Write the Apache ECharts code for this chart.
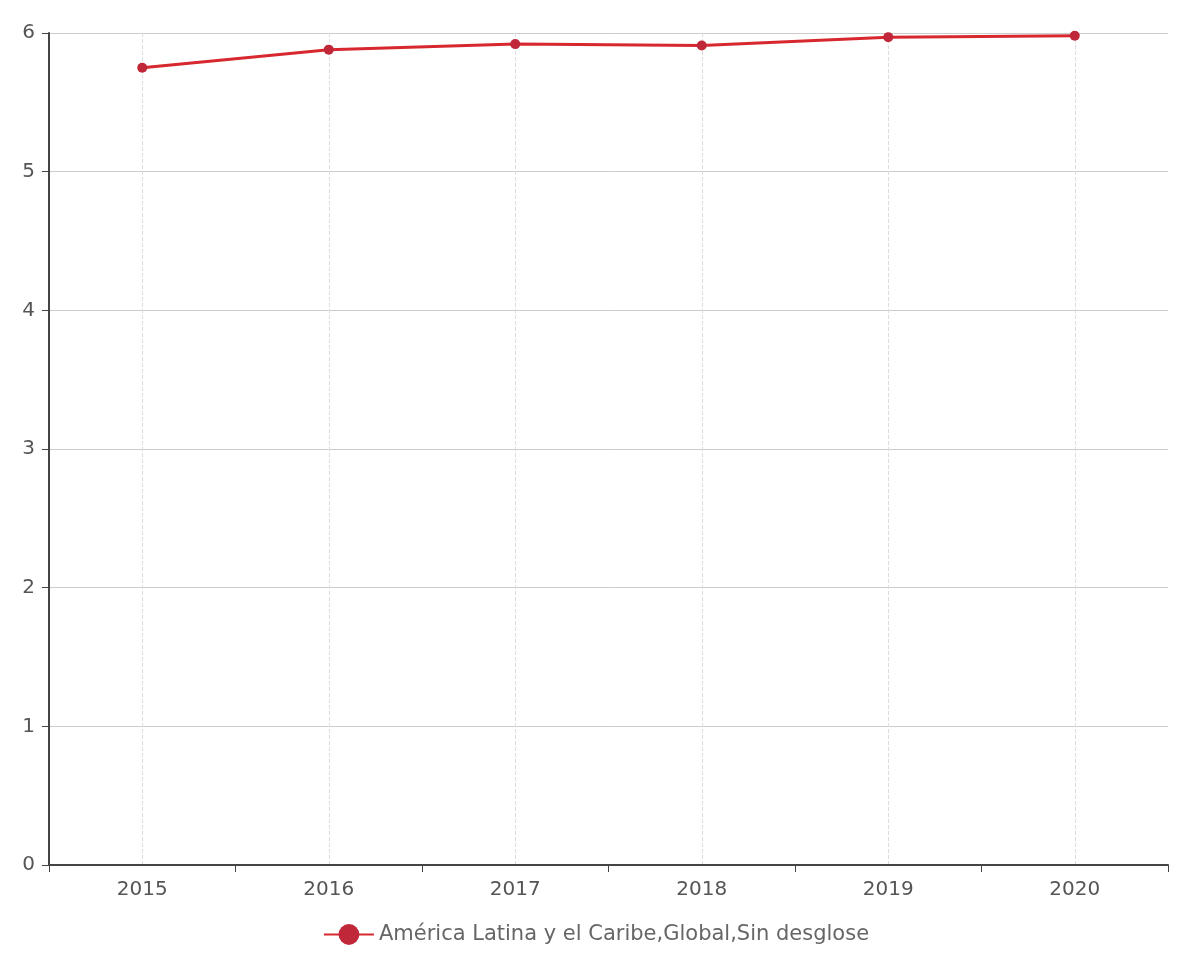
<!DOCTYPE html>
<html><head><meta charset="utf-8">
<script src="https://cdn.jsdelivr.net/npm/echarts@6/dist/echarts.min.js"></script>
<style>html,body{margin:0;padding:0;background:#fff}#c{width:1192px;height:956px}</style>
</head><body><div id="c"></div>
<script>
const categories = ['2015','2016','2017','2018','2019','2020'];
const values = [5.75, 5.88, 5.92, 5.91, 5.97, 5.98];
const seriesName = 'América Latina y el Caribe,Global,Sin desglose';
const yTicks = [0, 6, 1];

const FONT = 'DejaVu Sans, sans-serif';
const chart = echarts.init(document.getElementById('c'), null, {renderer: 'canvas'});
chart.setOption({
  animation: false,
  backgroundColor: '#fff',
  grid: {left: 49, right: 24, top: 33, bottom: 91, containLabel: false},
  legend: {
    bottom: 6, left: 'center',
    itemWidth: 50, itemHeight: 26, itemGap: 10,
    textStyle: {fontSize: 21, color: '#666', fontFamily: FONT},
    data: [seriesName]
  },
  xAxis: {
    type: 'category', data: categories, boundaryGap: true,
    axisLine: {lineStyle: {color: '#444', width: 2}},
    axisTick: {show: true, length: 7, lineStyle: {color: '#444'}},
    axisLabel: {fontSize: 20, color: '#555', margin: 15, fontFamily: FONT},
    splitLine: {show: true, alignWithLabel: true, lineStyle: {color: '#ddd', type: 'dashed'}}
  },
  yAxis: {
    type: 'value', min: yTicks[0], max: yTicks[1], interval: yTicks[2],
    axisLine: {show: true, lineStyle: {color: '#444', width: 2}},
    axisTick: {show: true, length: 7, lineStyle: {color: '#444'}},
    axisLabel: {fontSize: 20, color: '#555', margin: 14, fontFamily: FONT},
    splitLine: {show: true, lineStyle: {color: '#ccc'}}
  },
  series: [{
    name: seriesName, type: 'line', data: values,
    symbol: 'circle', symbolSize: 10,
    lineStyle: {color: '#d7282f', width: 3},
    itemStyle: {color: '#c0283a'}
  }]
});
</script></body></html>
